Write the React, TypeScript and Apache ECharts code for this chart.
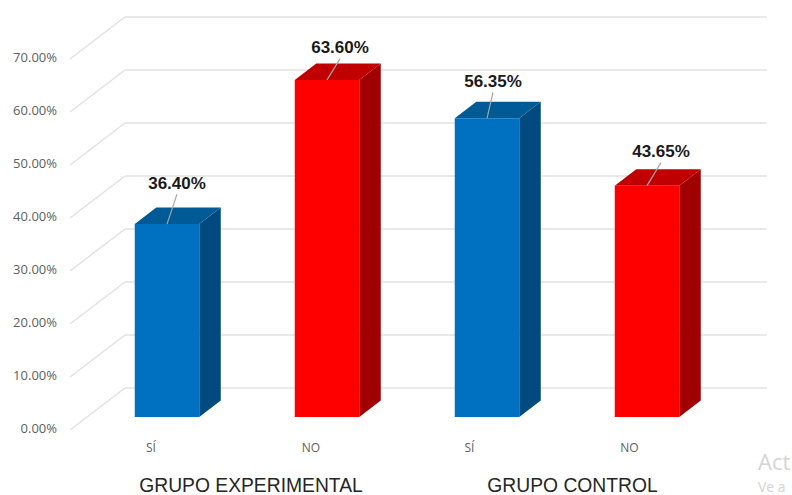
import React, { useEffect, useRef } from "react";
import * as echarts from "echarts";

const categories = ["SÍ", "NO", "SÍ ", "NO "];
const values = [36.4, 63.6, 56.35, 43.65];
const groups = ["GRUPO EXPERIMENTAL", "GRUPO CONTROL"];
const wallTicks = [0, 10, 20, 30, 40, 50, 60, 70];

const faceColors = [
  { front: "#0070C0", side: "#004A80", top: "#005A96" },
  { front: "#FF0000", side: "#A00000", top: "#C00000" },
  { front: "#0070C0", side: "#004A80", top: "#005A96" },
  { front: "#FF0000", side: "#A00000", top: "#C00000" },
];
const labelOffsets = [
  [10, -41],
  [13, -32],
  [6, -37],
  [14, -34],
];
const BAR_W = 64.5;
const DEPTH_X = 21.5;
const DEPTH_Y = -16.5;

export default function App() {
  const ref = useRef<HTMLDivElement>(null);
  useEffect(() => {
    const chart = echarts.init(ref.current!, null, { renderer: "svg" });
    const hiddenX = { show: false };
    chart.setOption({
      animation: false,
      backgroundColor: "#ffffff",
      grid: [
        { left: 125, width: 642, top: 17, height: 371 },
        { left: 70, width: 600, top: 57, height: 371 },
        { left: 87, width: 640, top: 46, height: 371 },
      ],
      xAxis: [
        { ...hiddenX, type: "value", min: 0, max: 1, gridIndex: 0 },
        { ...hiddenX, type: "value", min: 0, max: 1, gridIndex: 1 },
        {
          type: "category",
          gridIndex: 2,
          data: categories,
          axisLine: { show: false },
          axisTick: { show: false },
          axisLabel: {
            color: "#606060",
            fontSize: 12,
            fontFamily: "Open Sans",
            margin: 24,
            interval: 0,
            padding: [0, 32, 0, 0],
          },
        },
      ],
      yAxis: [
        {
          type: "value",
          gridIndex: 0,
          min: 0,
          max: 70,
          interval: 10,
          axisLine: { show: false },
          axisTick: { show: false },
          axisLabel: { show: false },
          splitLine: { show: true, lineStyle: { color: "#e2e2e2", width: 1.5 } },
        },
        {
          type: "value",
          gridIndex: 1,
          min: 0,
          max: 70,
          interval: 10,
          axisLine: { show: false },
          axisTick: { show: false },
          splitLine: { show: false },
          axisLabel: {
            color: "#606060",
            fontSize: 13,
            fontFamily: "Open Sans",
            margin: 13,
            formatter: (v: number) => v.toFixed(2) + "%",
          },
        },
        {
          type: "value",
          gridIndex: 2,
          min: 0,
          max: 70,
          interval: 10,
          show: false,
        },
      ],
      series: [
        {
          type: "custom",
          xAxisIndex: 0,
          yAxisIndex: 0,
          silent: true,
          clip: false,
          z: 1,
          data: wallTicks.map((v) => [0, v]),
          renderItem: (_p: any, api: any) => {
            const [x, y] = api.coord([api.value(0), api.value(1)]);
            return {
              type: "line",
              shape: { x1: x, y1: y, x2: x - 55, y2: y + 42 },
              style: { stroke: "#e2e2e2", lineWidth: 1.5 },
            };
          },
        },
        {
          type: "custom",
          xAxisIndex: 2,
          yAxisIndex: 2,
          silent: true,
          clip: false,
          z: 5,
          data: values.map((v, i) => [i, v]),
          encode: { x: 0, y: 1 },
          renderItem: (p: any, api: any) => {
            const i = p.dataIndex;
            const val = api.value(1);
            const [cx, yTop] = api.coord([api.value(0), val]);
            const [, yBase] = api.coord([api.value(0), 0]);
            const l = cx - BAR_W / 2;
            const r = cx + BAR_W / 2;
            const c = faceColors[i];
            const [dx, dy] = labelOffsets[i];
            return {
              type: "group",
              children: [
                {
                  type: "polygon",
                  shape: { points: [[r, yBase], [r + DEPTH_X, yBase + DEPTH_Y], [r + DEPTH_X, yTop + DEPTH_Y], [r, yTop]] },
                  style: { fill: c.side },
                },
                {
                  type: "polygon",
                  shape: { points: [[l, yTop], [l + DEPTH_X, yTop + DEPTH_Y], [r + DEPTH_X, yTop + DEPTH_Y], [r, yTop]] },
                  style: { fill: c.top },
                },
                {
                  type: "rect",
                  shape: { x: l, y: yTop, width: BAR_W, height: yBase - yTop },
                  style: { fill: c.front },
                },
                {
                  type: "line",
                  shape: { x1: cx, y1: yTop, x2: cx + dx, y2: yTop + dy + 11 },
                  style: { stroke: "#a6a6a6", lineWidth: 1.2 },
                },
                {
                  type: "text",
                  x: cx + dx,
                  y: yTop + dy,
                  style: {
                    text: val.toFixed(2) + "%",
                    fill: "#1a1a1a",
                    font: 'bold 17px "Liberation Sans"',
                    align: "center",
                    verticalAlign: "middle",
                  },
                },
              ],
            };
          },
        },
      ],
      graphic: [
        ...groups.map((g, i) => ({
          type: "text",
          x: [251, 572.5][i],
          y: 485,
          style: {
            text: g,
            fill: "#262626",
            font: '19.3px "Liberation Sans"',
            align: "center",
            verticalAlign: "middle",
          },
        })),
        {
          type: "text",
          x: 758,
          y: 461,
          style: { text: "Act", fill: "#d4d4d4", font: '22px "Open Sans"', verticalAlign: "middle" },
        },
        {
          type: "text",
          x: 758,
          y: 486,
          style: { text: "Ve a", fill: "#d4d4d4", font: '14px "Open Sans"', verticalAlign: "middle" },
        },
      ],
    });
    return () => chart.dispose();
  }, []);
  return (
    <div
      ref={ref}
      style={{ position: "fixed", left: 0, top: 0, width: 792, height: 495 }}
    />
  );
}
